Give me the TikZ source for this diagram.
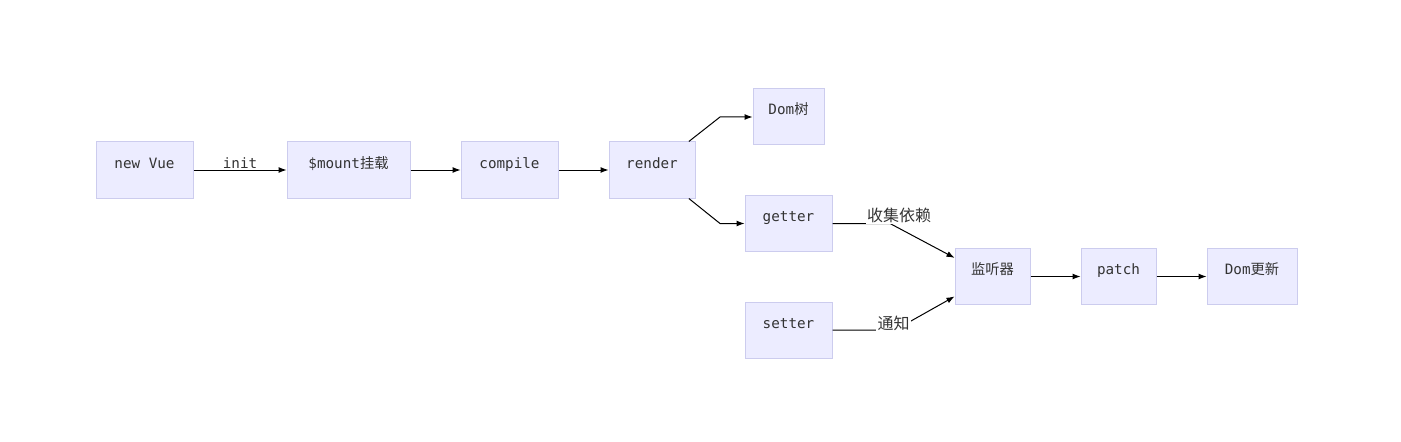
\documentclass[tikz,border=0pt]{standalone}
\usepackage{fontspec}
\setmonofont{DejaVu Sans Mono}
\newfontfamily\cjk{Noto Sans CJK SC}
\usetikzlibrary{arrows.meta}
\definecolor{boxfill}{HTML}{ECECFF}
\definecolor{boxline}{HTML}{CCCCEE}
\definecolor{txt}{HTML}{333333}
\tikzset{box/.style={draw=boxline,fill=boxfill,line width=0.75pt,minimum height=42pt,inner sep=0pt,text height=8pt,text depth=11pt,text=txt,font=\ttfamily\fontsize{10.7}{12}\selectfont},
arr/.style={-{Latex[length=6pt,width=4.5pt]},line width=0.75pt},
lbl/.style={fill=white,inner sep=1pt,text=txt}}
\begin{document}
\begin{tikzpicture}[x=0.75pt,y=-0.75pt]
\useasboundingbox (0,0) rectangle (1401,442);
\node[box,minimum width=72.75pt] (vue) at (144.5,170) {new Vue};
\node[box,minimum width=92.25pt] (mount) at (348.5,170) {\$mount{\cjk 挂载}};
\node[box,minimum width=72.75pt] (compile) at (509.5,170) {compile};
\node[box,minimum width=64.5pt] (render) at (652,170) {render};
\node[box,minimum width=53.25pt] (domtree) at (788.5,117) {Dom{\cjk 树}};
\node[box,minimum width=65.25pt] (getter) at (788.5,223.5) {getter};
\node[box,minimum width=65.25pt] (setter) at (788.5,330) {setter};
\node[box,minimum width=56.25pt] (listen) at (992.5,276.5) {\cjk 监听器};
\node[box,minimum width=56.25pt] (patch) at (1118.5,276.5) {patch};
\node[box,minimum width=67.5pt] (domnew) at (1252,276.5) {Dom{\cjk 更新}};
\draw[arr] (vue) -- (mount);\draw[arr] (mount) -- (compile);\draw[arr] (compile) -- (render);
\draw[arr] ([xshift=-5pt]render.north east) -- (720,117) -- (domtree);
\draw[arr] ([xshift=-5pt]render.south east) -- (720,223.5) -- (getter);
\draw[arr] (getter) -- (890,223.5) -- ([yshift=14pt]listen.west);
\draw[arr] (setter) -- (895,330) -- ([yshift=-15pt]listen.west);
\draw[arr] (listen) -- (patch);\draw[arr] (patch) -- (domnew);
\node[lbl,font=\ttfamily\fontsize{10.7}{12}\selectfont] (linit) at (240,163) {init};
\node[lbl,font=\cjk\fontsize{12}{14}\selectfont] (ldep) at (899,215) {收集依赖};
\node[lbl,font=\cjk\fontsize{12}{14}\selectfont] (lnote) at (893.5,323) {通知};
\end{tikzpicture}
\end{document}
